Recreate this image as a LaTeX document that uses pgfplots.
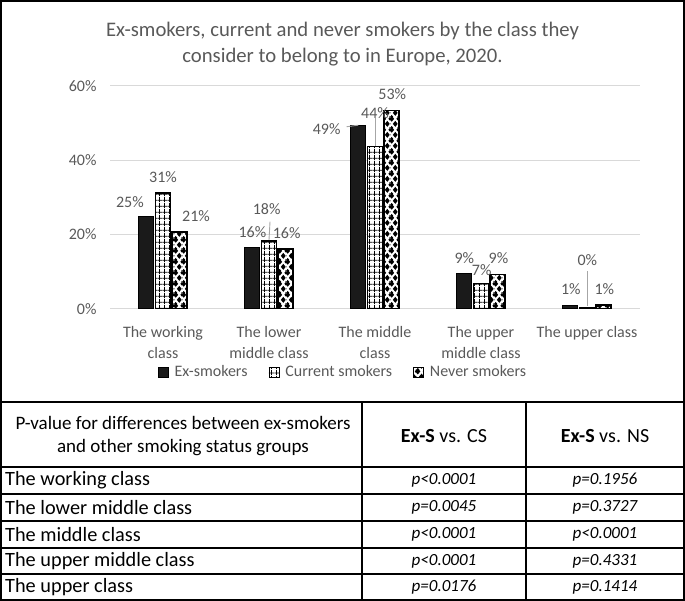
\documentclass[border=0pt]{standalone}
\usepackage{fontspec}
\setmainfont{Carlito}
\usepackage{pgfplots}
\usepackage{pgfplotstable}
\pgfplotsset{compat=1.18}
\usetikzlibrary{patterns}

\definecolor{labelgray}{HTML}{595959}
\definecolor{gridgray}{HTML}{D9D9D9}
\definecolor{leadergray}{HTML}{A6A6A6}
\definecolor{barblack}{HTML}{1A1A1A}

% square grid for the current smokers
\pgfdeclarepatternformonly{cellgrid}{\pgfqpoint{0bp}{0bp}}{\pgfqpoint{5.3bp}{5.5bp}}{\pgfqpoint{5.3bp}{5.5bp}}{%
  \pgfsetlinewidth{0.8bp}%
  \pgfpathmoveto{\pgfqpoint{1.8bp}{0bp}}\pgfpathlineto{\pgfqpoint{1.8bp}{5.5bp}}%
  \pgfpathmoveto{\pgfqpoint{0bp}{2bp}}\pgfpathlineto{\pgfqpoint{5.3bp}{2bp}}%
  \pgfusepath{stroke}}

% checkered diamonds for the never smokers
\newcommand\pdiamond[2]{%
  \pgfpathmoveto{\pgfpoint{(#1)*1bp+2.6bp}{(#2)*1bp}}%
  \pgfpathlineto{\pgfpoint{(#1)*1bp}{(#2)*1bp+3.2bp}}%
  \pgfpathlineto{\pgfpoint{(#1)*1bp-2.6bp}{(#2)*1bp}}%
  \pgfpathlineto{\pgfpoint{(#1)*1bp}{(#2)*1bp-3.2bp}}%
  \pgfpathclose}
\pgfdeclarepatternformonly{diamondcheck}{\pgfqpoint{0bp}{0bp}}{\pgfqpoint{7.571bp}{11bp}}{\pgfqpoint{7.571bp}{11bp}}{%
  \foreach \i in {-1,0,1}{\foreach \j in {-1,0,1}{%
    \pdiamond{5.56+7.571*\i}{4.5+11*\j}%
    \pdiamond{1.78+7.571*\i}{10+11*\j}}}%
  \pgfusepath{fill}}

% shares (%) by self-assessed class; dx/dy place each value label
\pgfplotstableread{
x y dx dy
0 24.7 -16.5 15.2
1 16.4 0 15.4
2 49.3 -31.7 -3.5
3 9.4 0 16.1
4 0.9 0.4 16.1
}\exsmokers
\pgfplotstableread{
x y dx dy
0 31.1 0 16.4
1 18.2 -2.3 31.8
2 43.6 0 33.9
3 6.8 0.7 12.9
4 0.4 0.3 47.2
}\current
\pgfplotstableread{
x y dx dy
0 20.6 16.4 16.4
1 16.1 1 15.9
2 53.4 0.7 16.2
3 9.2 0.9 16.5
4 1.0 0.7 15.7
}\never

\newcommand\chartfont{\fontsize{16bp}{21bp}\selectfont}

\begin{document}
\begin{tikzpicture}
\begin{axis}[
  at={(110bp,-308.7bp)}, anchor=south west,
  scale only axis, width=530bp, height=223bp,
  xmin=-0.5, xmax=4.5, ymin=0, ymax=60,
  axis line style={draw=none}, tick style={draw=none},
  ymajorgrids, grid style={gridgray, line width=1bp},
  ytick={0,20,40,60},
  /pgf/number format/assume math mode=true,
  yticklabel={\pgfmathprintnumber{\tick}\%},
  yticklabel style={font=\chartfont, text=labelgray, xshift=-10bp},
  xtick={0,...,4},
  xticklabels={{The working\\class},{The lower\\middle class},{The middle\\class},{The upper\\middle class},{The upper class}},
  xticklabel style={font=\chartfont, text=labelgray, align=center, anchor=north, yshift=-10bp},
  ybar, bar width=15bp,
  point meta=y,
  nodes near coords={\pgfmathprintnumber[fixed,precision=0]{\pgfplotspointmeta}\%},
  visualization depends on={\thisrow{dx} \as \labeldx},
  visualization depends on={\thisrow{dy} \as \labeldy},
  every node near coord/.append style={font=\chartfont, text=labelgray, anchor=center, xshift=\labeldx bp, yshift=\labeldy bp},
  legend columns=3,
  legend style={at={(axis description cs:0.4396,-0.2839)}, anchor=center, draw=none, fill=none,
    font=\chartfont, text=labelgray,
    /tikz/every odd column/.append style={column sep=4bp},
    /tikz/every even column/.append style={column sep=19bp}},
  legend image code/.code={\draw[#1, line width=0.8bp] (0bp,-5bp) rectangle (10bp,5bp);},
]
\addplot[bar shift=-16.6bp, fill=barblack, draw=black, line width=1bp] table[x=x,y=y] {\exsmokers};
\addplot[bar shift=0bp, fill=white, draw=black, line width=1.3bp, postaction={pattern=cellgrid}] table[x=x,y=y] {\current};
\addplot[bar shift=16.6bp, fill=white, draw=black, line width=1.3bp, postaction={pattern=diamondcheck}] table[x=x,y=y] {\never};
\legend{Ex-smokers, Current smokers, Never smokers}
\end{axis}

\begin{scope}[x=1bp, y=-1bp]
  % title
  \node[font=\fontsize{20.7bp}{26bp}\selectfont, text=labelgray, align=center] at (342.5,44.5)
    {Ex-smokers, current and never smokers by the class they\\consider to belong to in Europe, 2020.};
  % leader lines of the displaced value labels
  \draw[leadergray, line width=0.9bp] (269,240) -- (270,221.7);
  \draw[leadergray, line width=0.9bp] (346.7,126.7) -- (358.3,125.2);
  \draw[leadergray, line width=0.9bp] (375.5,146) -- (375.5,118);
  \draw[leadergray, line width=0.9bp] (587.3,306) -- (587.3,271);

  % frame and p-value table
  \draw[line width=2bp] (1,1) rectangle (684,600);
  \foreach \yy in {402,467,494,521,547.5,574} \draw[line width=2bp] (1,\yy) -- (684,\yy);
  \draw[line width=2bp] (362,402) -- (362,600);
  \draw[line width=2bp] (526,402) -- (526,600);

  \node[font=\fontsize{19bp}{23.3bp}\selectfont, align=center] at (183,435.7)
    {P-value for differences between ex-smokers\\and other smoking status groups};
  \node[font=\fontsize{20bp}{23bp}\selectfont] at (444,436) {\textbf{Ex-S} vs. CS};
  \node[font=\fontsize{20bp}{23bp}\selectfont] at (605,436) {\textbf{Ex-S} vs. NS};

  \foreach \yy/\name/\pcs/\pns in {
      480.5/The working class/p<0.0001/p=0.1956,
      507.5/The lower middle class/p=0.0045/p=0.3727,
      534.3/The middle class/p<0.0001/p<0.0001,
      561/The upper middle class/p<0.0001/p=0.4331,
      587.5/The upper class/p=0.0176/p=0.1414} {
    \node[font=\fontsize{20.3bp}{23bp}\selectfont, anchor=west, inner sep=0pt] at (5,\yy) {\name};
    \node[font=\fontsize{17bp}{20bp}\selectfont\itshape] at (444,\yy) {\pcs};
    \node[font=\fontsize{17bp}{20bp}\selectfont\itshape] at (605,\yy) {\pns};
  }
  \pgfresetboundingbox
  \path[use as bounding box] (0,0) rectangle (685,601);
\end{scope}
\end{tikzpicture}
\end{document}
